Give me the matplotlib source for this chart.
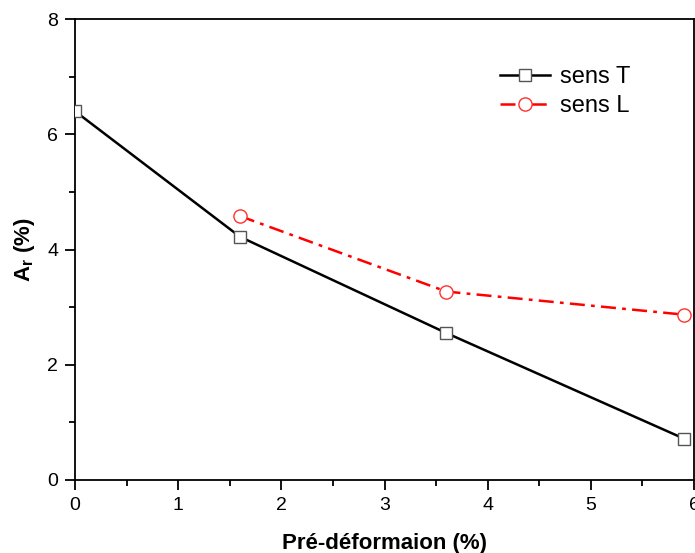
import matplotlib
matplotlib.use("Agg")
import matplotlib.pyplot as plt
from matplotlib.ticker import MultipleLocator

plt.rcParams['font.family'] = ['Liberation Sans', 'DejaVu Sans']
plt.rcParams['mathtext.fontset'] = 'custom'
plt.rcParams['mathtext.rm'] = 'Liberation Sans'
plt.rcParams['mathtext.bf'] = 'Liberation Sans:bold'

x_T = [0, 1.6, 3.6, 5.9]
y_T = [6.4, 4.22, 2.55, 0.72]
x_L = [1.6, 3.6, 5.9]
y_L = [4.58, 3.27, 2.87]

fig = plt.figure(figsize=(6.95, 5.53), dpi=100)
ax = fig.add_axes([75/695, 1-480/553, (694-75)/695, (480-19)/553])

ax.plot(x_T, y_T, color='black', lw=1.8, marker='s', ms=8,
        mfc='white', mec='#555555', mew=1.0, label='sens T', zorder=3)
ax.plot(x_L, y_L, color='#ff0000', lw=1.8, ls=(0, (6, 2.5, 1.5, 2.5)), marker='o', ms=9.5,
        mfc='white', mec='#ff3030', mew=1.0, label='sens L', zorder=3)

ax.set_xlim(0, 6)
ax.set_ylim(0, 8)
ax.xaxis.set_major_locator(MultipleLocator(1))
ax.xaxis.set_minor_locator(MultipleLocator(0.5))
ax.yaxis.set_major_locator(MultipleLocator(2))
ax.yaxis.set_minor_locator(MultipleLocator(1))
ax.tick_params(which='major', direction='out', length=7, width=1.3, labelsize=14, pad=5)
ax.tick_params(which='minor', direction='out', length=4, width=1.3)
for s in ax.spines.values():
    s.set_linewidth(1.3)

ax.set_xlabel('Pré-déformaion (%)', fontsize=16, fontweight='bold', labelpad=14)
ax.set_ylabel(r'$\mathbf{A_r}$ (%)', fontsize=16, fontweight='bold')
ax.yaxis.set_label_coords(-0.062, 0.5)

leg = ax.legend(loc='upper left', bbox_to_anchor=(0.687, 0.898), frameon=False,
                borderpad=0, borderaxespad=0,
                fontsize=17, handlelength=2.1, handletextpad=0.45, labelspacing=0.3)

fig.savefig('out.png', dpi=100)
